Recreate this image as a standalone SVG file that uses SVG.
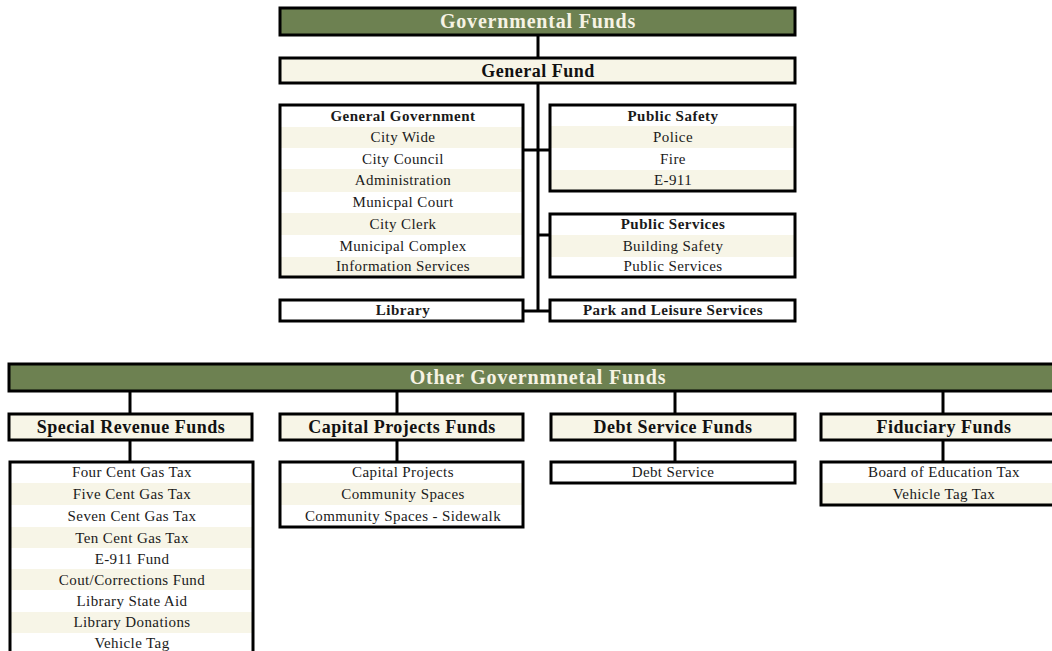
<svg xmlns="http://www.w3.org/2000/svg" width="1052" height="651" viewBox="0 0 1052 651">
<style>
.box{fill:none;stroke:#000;stroke-width:3}
.wb{fill:#fff}
.cr{fill:#f7f5e7}
.gr{fill:#6d8151}
.t{font-family:"Liberation Serif",serif;font-size:15px;letter-spacing:0.4px;fill:#1a1a1a;text-anchor:middle}
.b{font-weight:bold;letter-spacing:0.5px}
.h1{font-family:"Liberation Serif",serif;font-size:20px;letter-spacing:0.8px;font-weight:bold;fill:#f6f3e4;text-anchor:middle}
.h2{font-family:"Liberation Serif",serif;font-size:18px;letter-spacing:0.5px;font-weight:bold;fill:#111;text-anchor:middle}
.ln{stroke:#000;stroke-width:3;fill:none}
</style>
<rect width="1052" height="651" fill="#fff"/>
<g id="connectors">
<line class="ln" x1="538" y1="36" x2="538" y2="312"/>
<line class="ln" x1="523" y1="150" x2="551" y2="150"/>
<line class="ln" x1="538" y1="235" x2="551" y2="235"/>
<line class="ln" x1="523" y1="311" x2="551" y2="311"/>
<line class="ln" x1="130" y1="391" x2="130" y2="414"/>
<line class="ln" x1="397" y1="391" x2="397" y2="414"/>
<line class="ln" x1="675" y1="391" x2="675" y2="414"/>
<line class="ln" x1="943" y1="391" x2="943" y2="414"/>
<line class="ln" x1="130" y1="440" x2="130" y2="462"/>
<line class="ln" x1="397" y1="440" x2="397" y2="462"/>
<line class="ln" x1="675" y1="440" x2="675" y2="462"/>
<line class="ln" x1="943" y1="440" x2="943" y2="462"/>
</g>
<g id="governmental-funds">
<rect class="gr" x="280" y="8" width="515" height="27"/>
<rect class="box" x="280" y="8" width="515" height="27"/>
<text class="h1" x="538" y="28">Governmental Funds</text>
</g>
<g id="general-fund">
<rect class="cr" x="280" y="58" width="515" height="25"/>
<rect class="box" x="280" y="58" width="515" height="25"/>
<text class="h2" x="538" y="77">General Fund</text>
</g>
<g id="general-government">
<rect class="wb" x="280" y="105" width="243" height="172"/>
<rect class="cr" x="280" y="127" width="243" height="21"/>
<rect class="cr" x="280" y="169" width="243" height="23"/>
<rect class="cr" x="280" y="213" width="243" height="22"/>
<rect class="cr" x="280" y="257" width="243" height="20"/>
<rect class="box" x="280" y="105" width="243" height="172"/>
<text class="t b" x="403" y="121">General Government</text>
<text class="t" x="403" y="142">City Wide</text>
<text class="t" x="403" y="164">City Council</text>
<text class="t" x="403" y="185">Administration</text>
<text class="t" x="403" y="207">Municpal Court</text>
<text class="t" x="403" y="229">City Clerk</text>
<text class="t" x="403" y="251">Municipal Complex</text>
<text class="t" x="403" y="271">Information Services</text>
</g>
<g id="public-safety">
<rect class="wb" x="550" y="105" width="245" height="86"/>
<rect class="cr" x="550" y="126" width="245" height="22"/>
<rect class="cr" x="550" y="170" width="245" height="21"/>
<rect class="box" x="550" y="105" width="245" height="86"/>
<text class="t b" x="673" y="121">Public Safety</text>
<text class="t" x="673" y="142">Police</text>
<text class="t" x="673" y="164">Fire</text>
<text class="t" x="673" y="185">E-911</text>
</g>
<g id="public-services">
<rect class="wb" x="550" y="214" width="245" height="63"/>
<rect class="cr" x="550" y="235" width="245" height="22"/>
<rect class="box" x="550" y="214" width="245" height="63"/>
<text class="t b" x="673" y="229">Public Services</text>
<text class="t" x="673" y="251">Building Safety</text>
<text class="t" x="673" y="271">Public Services</text>
</g>
<g id="library">
<rect class="box" x="280" y="300" width="243" height="21"/>
<text class="t b" x="403" y="315">Library</text>
</g>
<g id="park-leisure">
<rect class="box" x="550" y="300" width="245" height="21"/>
<text class="t b" x="673" y="315">Park and Leisure Services</text>
</g>
<g id="other-governmental-funds">
<rect class="gr" x="9" y="364" width="1050" height="27"/>
<rect class="box" x="9" y="364" width="1050" height="27"/>
<text class="h1" x="538" y="384">Other Governmnetal Funds</text>
</g>
<g id="special-revenue-funds">
<rect class="cr" x="9" y="414" width="243" height="26"/>
<rect class="box" x="9" y="414" width="243" height="26"/>
<text class="h2" x="131" y="433">Special Revenue Funds</text>
</g>
<g id="capital-projects-funds">
<rect class="cr" x="280" y="414" width="243" height="26"/>
<rect class="box" x="280" y="414" width="243" height="26"/>
<text class="h2" x="402" y="433">Capital Projects Funds</text>
</g>
<g id="debt-service-funds">
<rect class="cr" x="551" y="414" width="244" height="26"/>
<rect class="box" x="551" y="414" width="244" height="26"/>
<text class="h2" x="673" y="433">Debt Service Funds</text>
</g>
<g id="fiduciary-funds">
<rect class="cr" x="821" y="414" width="240" height="26"/>
<rect class="box" x="821" y="414" width="240" height="26"/>
<text class="h2" x="944" y="433">Fiduciary Funds</text>
</g>
<g id="special-revenue-list">
<rect class="wb" x="10" y="462" width="243" height="200"/>
<rect class="cr" x="10" y="483" width="243" height="22"/>
<rect class="cr" x="10" y="527" width="243" height="21"/>
<rect class="cr" x="10" y="569" width="243" height="21"/>
<rect class="cr" x="10" y="612" width="243" height="21"/>
<rect class="box" x="10" y="462" width="243" height="200"/>
<text class="t" x="132" y="477">Four Cent Gas Tax</text>
<text class="t" x="132" y="499">Five Cent Gas Tax</text>
<text class="t" x="132" y="521">Seven Cent Gas Tax</text>
<text class="t" x="132" y="543">Ten Cent Gas Tax</text>
<text class="t" x="132" y="564">E-911 Fund</text>
<text class="t" x="132" y="585">Cout/Corrections Fund</text>
<text class="t" x="132" y="606">Library State Aid</text>
<text class="t" x="132" y="627">Library Donations</text>
<text class="t" x="132" y="648">Vehicle Tag</text>
</g>
<g id="capital-projects-list">
<rect class="wb" x="280" y="462" width="243" height="65"/>
<rect class="cr" x="280" y="483" width="243" height="22"/>
<rect class="box" x="280" y="462" width="243" height="65"/>
<text class="t" x="403" y="477">Capital Projects</text>
<text class="t" x="403" y="499">Community Spaces</text>
<text class="t" x="403" y="521">Community Spaces - Sidewalk</text>
</g>
<g id="debt-service-list">
<rect class="box" x="551" y="462" width="244" height="21"/>
<text class="t" x="673" y="477">Debt Service</text>
</g>
<g id="fiduciary-list">
<rect class="wb" x="821" y="462" width="240" height="43"/>
<rect class="cr" x="821" y="483" width="240" height="22"/>
<rect class="box" x="821" y="462" width="240" height="43"/>
<text class="t" x="944" y="477">Board of Education Tax</text>
<text class="t" x="944" y="499">Vehicle Tag Tax</text>
</g>
</svg>
